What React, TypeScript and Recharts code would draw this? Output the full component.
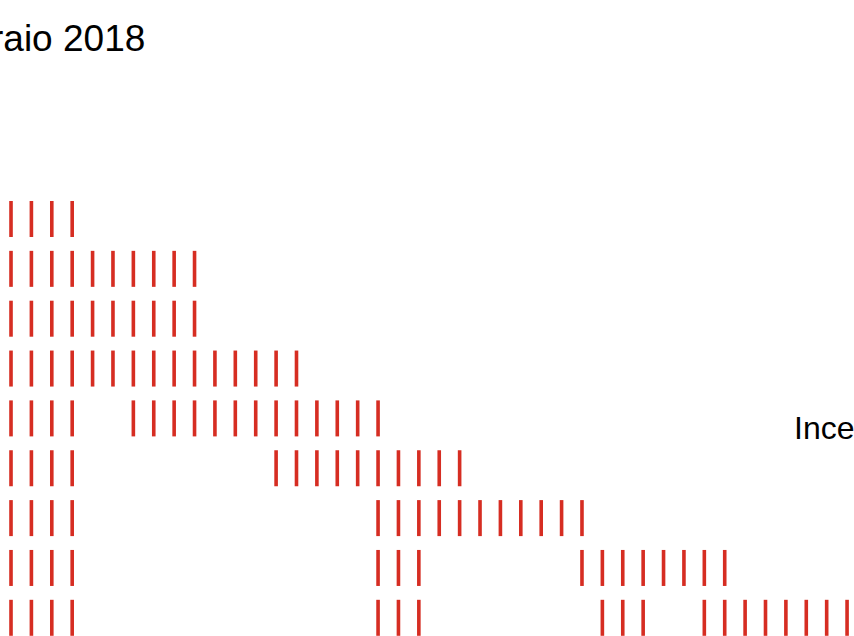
import React from 'react';
import { ScatterChart, Scatter, XAxis, YAxis } from 'recharts';

// day index of every mark, one list per row (top to bottom)
const row0 = [0, 1, 2, 3];
const row1 = [0, 1, 2, 3, 4, 5, 6, 7, 8, 9];
const row2 = [0, 1, 2, 3, 4, 5, 6, 7, 8, 9];
const row3 = [0, 1, 2, 3, 4, 5, 6, 7, 8, 9, 10, 11, 12, 13, 14];
const row4 = [0, 1, 2, 3, 6, 7, 8, 9, 10, 11, 12, 13, 14, 15, 16, 17, 18];
const row5 = [0, 1, 2, 3, 13, 14, 15, 16, 17, 18, 19, 20, 21, 22];
const row6 = [0, 1, 2, 3, 18, 19, 20, 21, 22, 23, 24, 25, 26, 27, 28];
const row7 = [0, 1, 2, 3, 18, 19, 20, 28, 29, 30, 31, 32, 33, 34, 35];
const row8 = [0, 1, 2, 3, 18, 19, 20, 29, 30, 31, 34, 35, 36, 37, 38, 39, 40, 41];

const rows = [row0, row1, row2, row3, row4, row5, row6, row7, row8];

const title = 'raio 2018';
const sideLabel = 'Ince';

const RED = '#d62d22';
const FONT = '"Liberation Sans", Arial, Helvetica, sans-serif';

const Tick = (props: any) => {
  const { cx, cy } = props;
  if (cx == null || cy == null) return null;
  return <rect x={cx - 1.8} y={cy - 18} width={3.6} height={36} fill={RED} />;
};

export default function App() {
  return (
    <div style={{ position: 'absolute', left: 0, top: 0, width: 854, height: 636, overflow: 'hidden', background: '#fff' }}>
      <ScatterChart width={854} height={636} margin={{ top: 0, right: 0, bottom: 0, left: 0 }}>
        <XAxis type="number" dataKey="day" domain={[-0.54, 41.34]} allowDataOverflow hide />
        <YAxis type="number" dataKey="row" domain={[-4.393, 8.365]} allowDataOverflow reversed hide />
        {rows.map((days, r) => (
          <Scatter
            key={r}
            data={days.map(day => ({ day, row: r }))}
            shape={<Tick />}
            isAnimationActive={false}
          />
        ))}
      </ScatterChart>
      <svg width={854} height={636} style={{ position: 'absolute', left: 0, top: 0, pointerEvents: 'none' }}>
        <text x={-9} y={51} fontFamily={FONT} fontSize={37} fill="#000">{title}</text>
        <text x={794} y={439} fontFamily={FONT} fontSize={32} fill="#000">{sideLabel}</text>
      </svg>
    </div>
  );
}
